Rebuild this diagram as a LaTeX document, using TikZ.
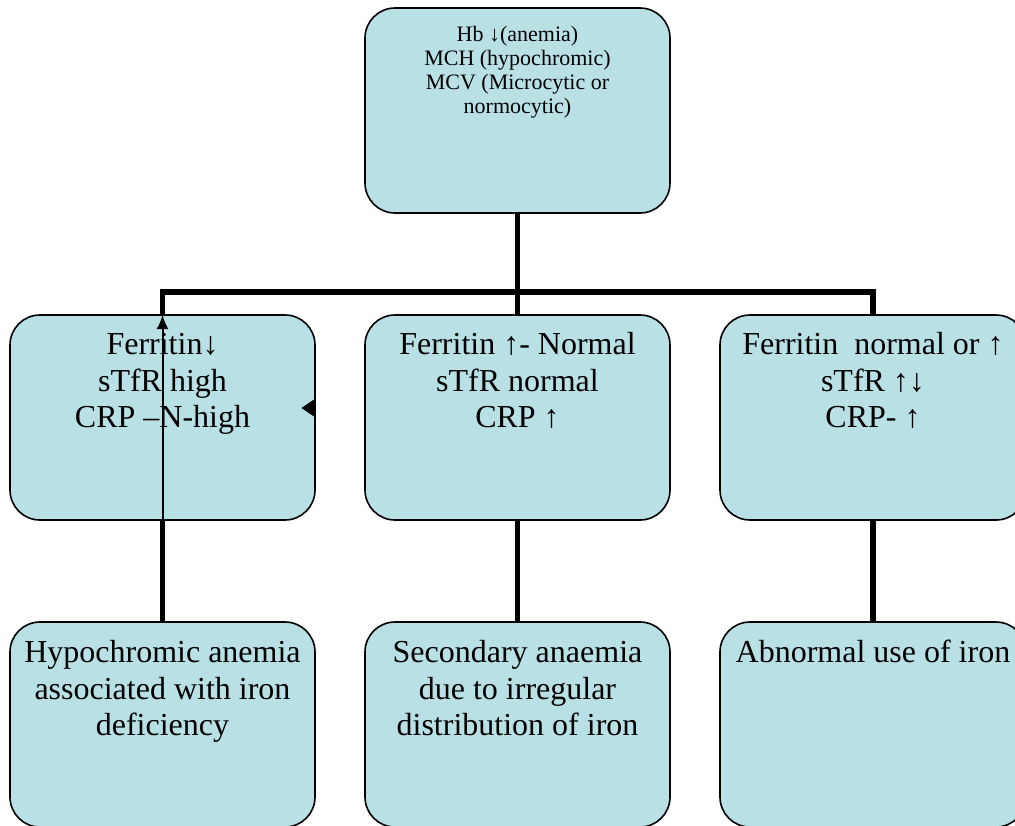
\documentclass[tikz,border=0pt]{standalone}
\usepackage{fontspec}
\setmainfont{Liberation Serif}
\usetikzlibrary{arrows.meta}
\definecolor{boxfill}{RGB}{185,224,228}
\newcommand{\boxtxt}[5]{\parbox[c][#2][t]{#1}{\centering\vspace*{#3}#4\strut#5\par}}
\begin{document}
\begin{tikzpicture}[x=1pt,y=-1pt,
  box/.style={draw=black, line width=1.6pt, fill=boxfill, rounded corners=30pt,
    inner sep=0pt, outer sep=0pt, anchor=north west},
  conn/.style={draw=black, line width=5.5pt, line join=miter},
  thinarrow/.style={draw=black, line width=2pt, -{Latex[length=14pt,width=12pt]}}]
\useasboundingbox (0,0) rectangle (1015,825);
\clip (0,0) rectangle (1015,825);
\def\big{\fontsize{32}{36.5}\selectfont}
\def\sml{\fontsize{22}{24.3}\selectfont}
% boxes
\node[box] (top) at (365,8) {\boxtxt{305pt}{205pt}{16pt}{\sml}{Hb ↓(anemia)\\MCH (hypochromic)\\MCV (Microcytic or\\normocytic)}};
\node[box] (m1) at (10,315) {\boxtxt{305pt}{205pt}{14pt}{\big}{Ferritin↓\\sTfR high\\CRP –N-high}};
\node[box] (m2) at (365,315) {\boxtxt{305pt}{205pt}{14pt}{\big}{Ferritin ↑- Normal\\sTfR normal\\CRP ↑}};
\node[box] (m3) at (720,315) {\boxtxt{306pt}{205pt}{14pt}{\big}{Ferritin\ \ normal or ↑\\sTfR ↑↓\\CRP- ↑}};
\node[box] (b1) at (10,622) {\boxtxt{305pt}{205pt}{15pt}{\big}{Hypochromic anemia\\associated with iron\\deficiency}};
\node[box] (b2) at (365,622) {\boxtxt{305pt}{205pt}{15pt}{\big}{Secondary anaemia\\due to irregular\\distribution of iron}};
\node[box] (b3) at (720,622) {\boxtxt{306pt}{205pt}{15pt}{\big}{Abnormal use of iron}};
% connectors
\coordinate (h) at (0,292);
\coordinate (j) at (top.south |- h);
\draw[conn] (top.south) -- (j);
\draw[conn] (m1.north) -- (m1.north |- j) -- (m3.north |- j) -- (m3.north);
\draw[conn] (j) -- (m2.north);
\draw[conn] (m1.south) -- (b1.north);
\draw[conn] (m2.south) -- (b2.north);
\draw[conn] (m3.south) -- (b3.north);
% thin arrow through left box
\draw[thinarrow] (m1.south) -- (m1.north);
% stray arrowhead at right edge of left box
\fill[black] (314,399.5) -- (301.5,408) -- (314,416.5) -- cycle;
\end{tikzpicture}
\end{document}
